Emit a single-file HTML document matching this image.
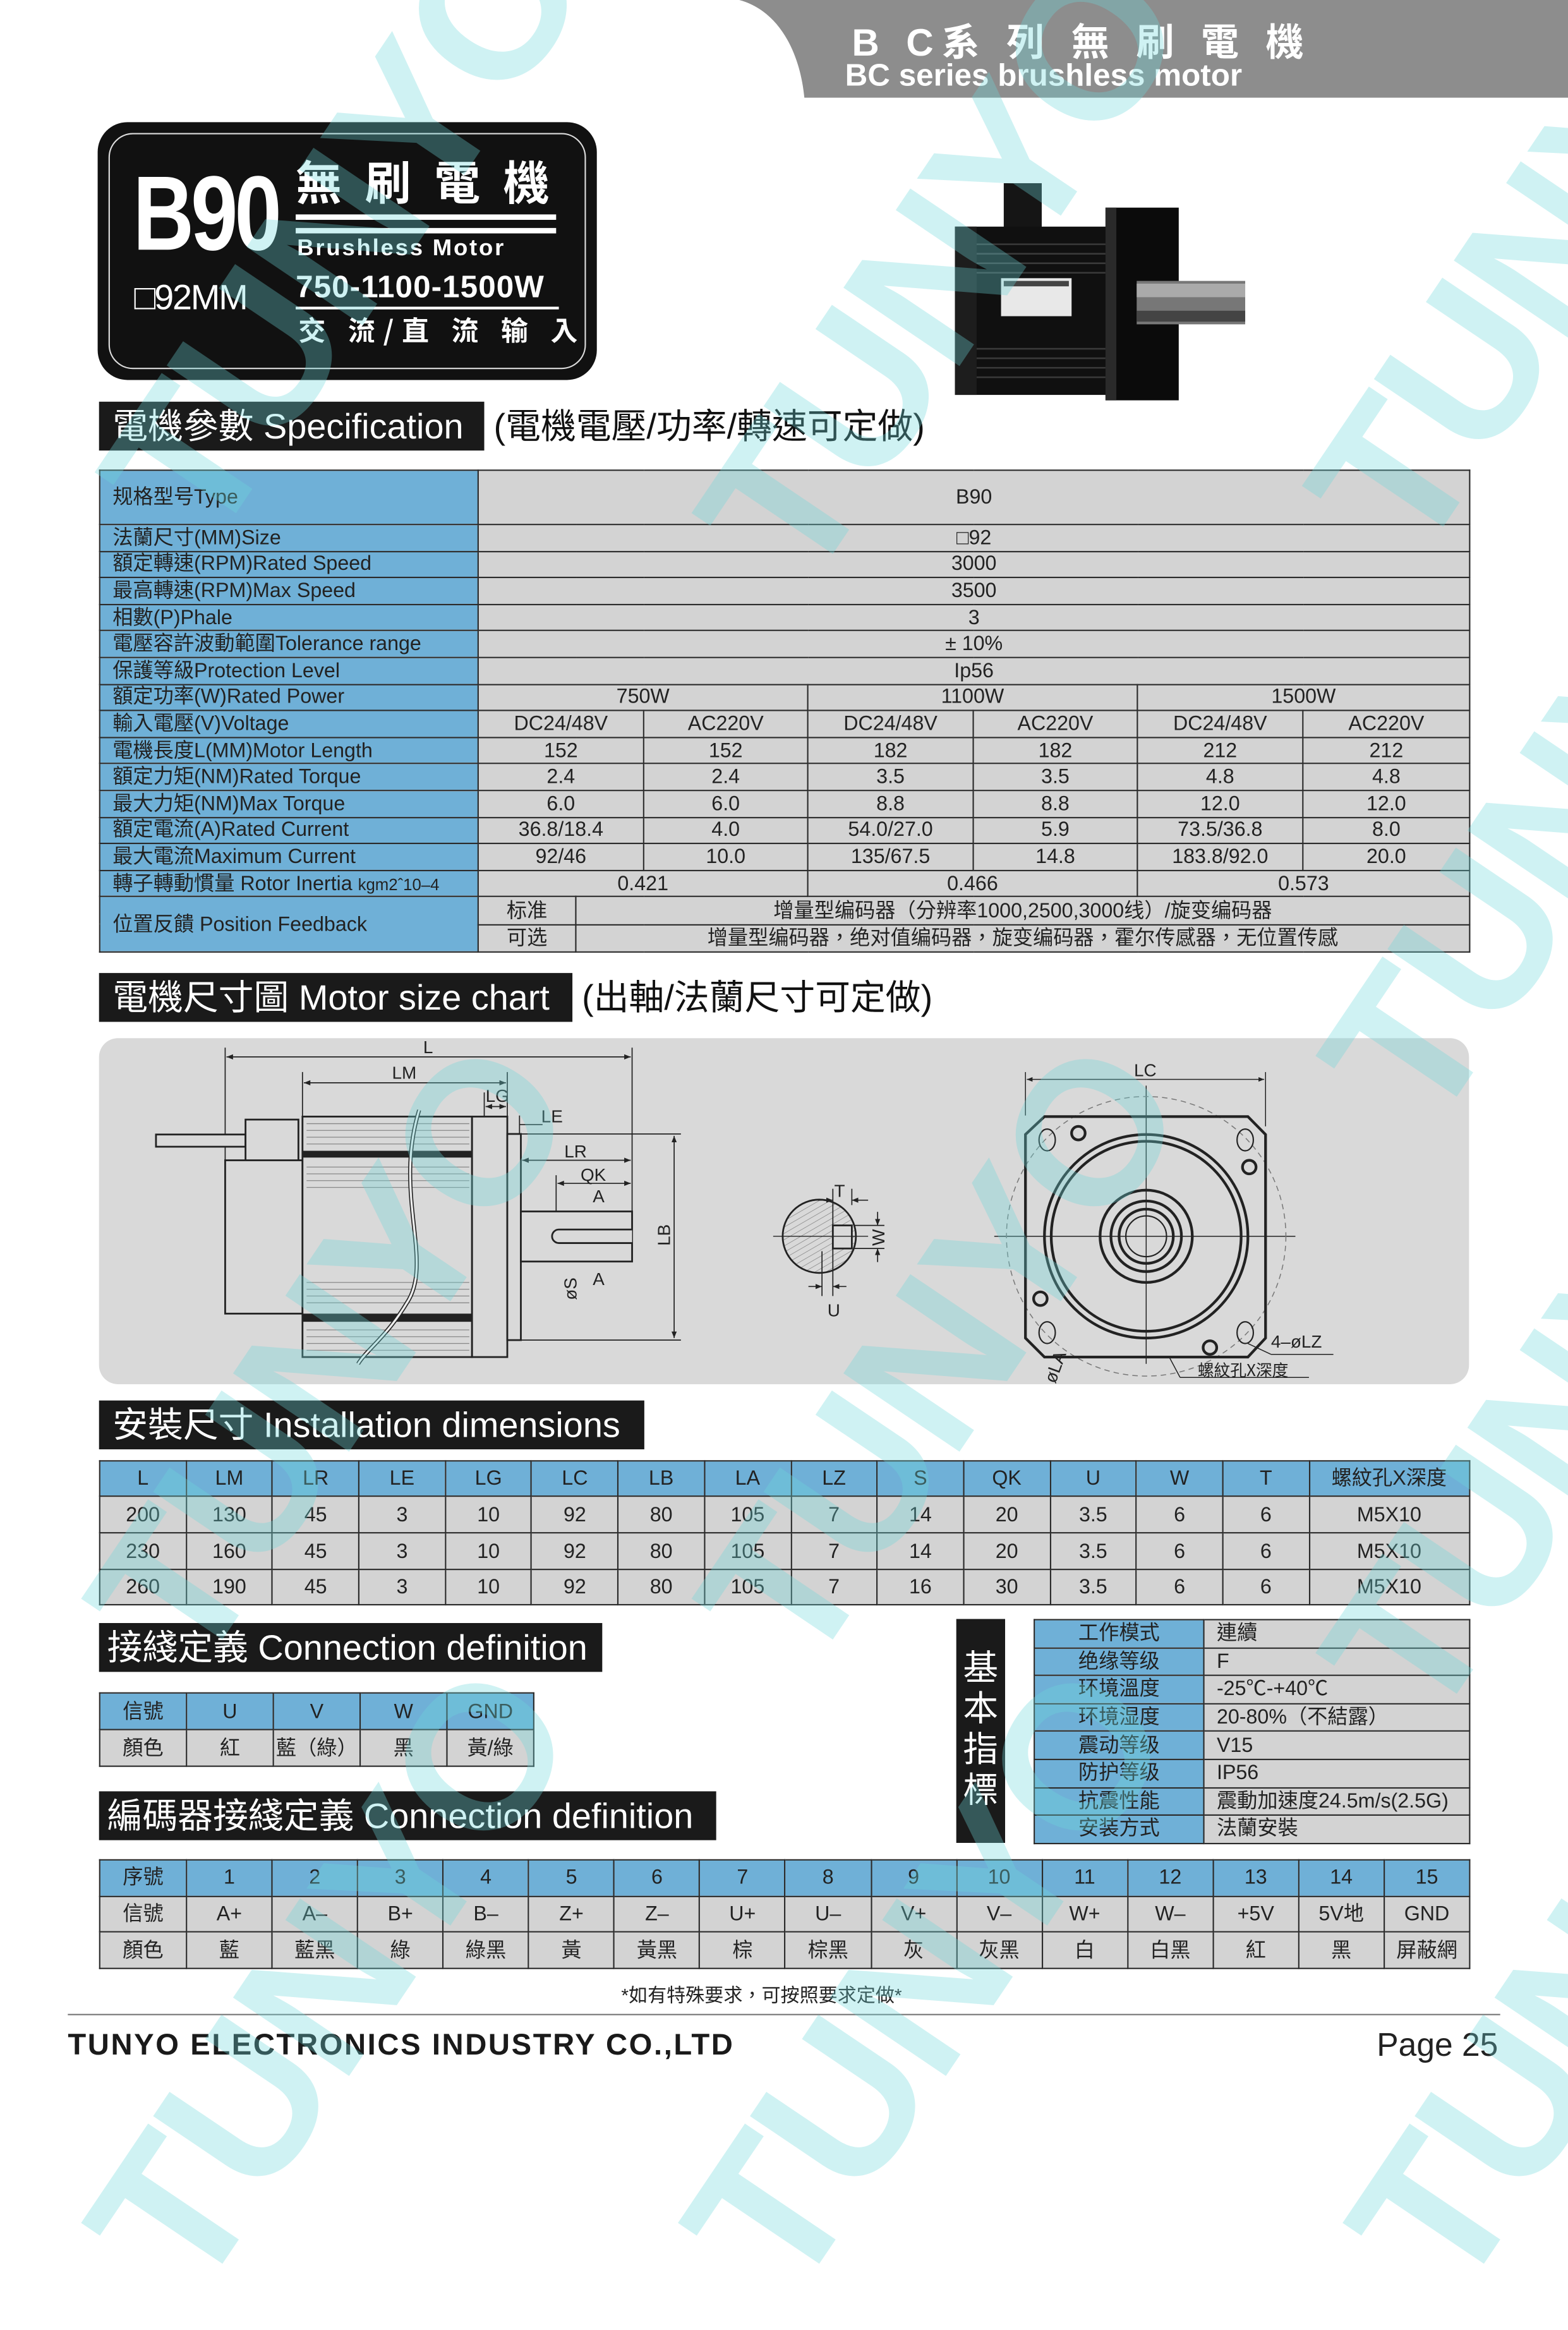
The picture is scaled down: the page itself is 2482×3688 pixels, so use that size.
<!DOCTYPE html>
<html><head><meta charset="utf-8">
<style>
html,body{margin:0;padding:0;background:#fff;}
body{width:2482px;height:3368px;overflow:hidden;position:relative;}
#pg{position:absolute;left:0;top:0;width:1156px;height:1568px;transform:scale(2.1471,2.148);transform-origin:0 0;font-family:"Liberation Sans Narrow","Liberation Sans","Noto Sans CJK TC",sans-serif;color:#222;}
.a{position:absolute;}
.blk{position:absolute;background:#1a1a1a;color:#fff;font-size:26px;line-height:36px;padding-left:10px;white-space:nowrap;}
table{border-collapse:collapse;table-layout:fixed;position:absolute;}
td{border:1.5px solid #2a2a2a;padding:0;font-size:15px;text-align:center;white-space:nowrap;overflow:hidden;line-height:1;}
td.b{background:#6fb0d7;}
td.g{background:#d3d3d3;}
td.l{text-align:left;padding-left:9px;}
.wm{position:absolute;font-family:"Liberation Sans",sans-serif;font-weight:bold;font-size:150px;color:rgba(110,215,220,0.33);transform:rotate(-56deg);transform-origin:0 0;white-space:nowrap;letter-spacing:-4px;pointer-events:none;}
</style></head><body><div id="pg">

<!-- header band -->
<svg class="a" style="left:0;top:0" width="1156" height="80"><path d="M545,0 L1156,0 L1156,72 L593,72 C590,40 575,8 545,0 Z" fill="#8d8d8d"/></svg>
<div class="a" style="left:628px;top:10px;color:#fff;font-weight:bold;font-size:28px;letter-spacing:6px;font-family:'Liberation Sans','Noto Sans CJK TC',sans-serif;">B C系 列 無 刷 電 機</div>
<div class="a" style="left:623px;top:42px;color:#fff;font-weight:bold;font-size:23px;font-family:'Liberation Sans Narrow','Liberation Sans',sans-serif;">BC series brushless motor</div>

<!-- badge -->
<div class="a" style="left:72px;top:90px;width:368px;height:190px;background:#111;border-radius:22px;"></div>
<div class="a" style="left:80px;top:98px;width:350px;height:172px;border:1.5px solid #ddd;border-radius:18px;"></div>
<div class="a" style="left:98px;top:118px;color:#fff;font-weight:bold;font-size:78px;line-height:1;transform:scaleX(0.8);transform-origin:0 0;font-family:'Liberation Sans',sans-serif;letter-spacing:-3px;">B90</div>
<div class="a" style="left:218px;top:114px;color:#fff;font-weight:bold;font-size:34px;line-height:1.1;letter-spacing:17px;font-family:'Noto Sans CJK TC',sans-serif;">無刷電機</div>
<div class="a" style="left:218px;top:158px;width:192px;height:4px;background:#fff;"></div>
<div class="a" style="left:218px;top:168px;width:192px;height:4px;background:#fff;"></div>
<div class="a" style="left:219px;top:173px;color:#fff;font-weight:bold;font-size:17px;letter-spacing:1.3px;font-family:'Liberation Sans',sans-serif;">Brushless Motor</div>
<div class="a" style="left:99px;top:204px;color:#fff;font-size:26px;letter-spacing:-1px;font-family:'Liberation Sans Narrow','Liberation Sans',sans-serif;">□92MM</div>
<div class="a" style="left:218px;top:198px;color:#fff;font-weight:bold;font-size:23px;letter-spacing:0.5px;font-family:'Liberation Sans Narrow','Liberation Sans',sans-serif;">750-1100-1500W</div>
<div class="a" style="left:218px;top:226px;width:194px;height:2px;background:#fff;"></div>
<div class="a" style="left:220px;top:228px;color:#fff;font-weight:bold;font-size:20px;letter-spacing:6px;font-family:'Noto Sans CJK TC',sans-serif;">交 流/直 流 输 入</div>

<!-- motor photo -->
<svg class="a" style="left:690px;top:125px" width="240" height="180">
<rect x="50" y="10" width="28" height="40" fill="#151515"/>
<rect x="14" y="42" width="116" height="124" fill="#101010"/>
<rect x="14" y="42" width="16" height="124" fill="#1d1d1d"/>
<g stroke="#3a3a3a" stroke-width="1.2">
<line x1="30" y1="55" x2="128" y2="55"/><line x1="30" y1="62" x2="128" y2="62"/><line x1="30" y1="69" x2="128" y2="69"/><line x1="30" y1="76" x2="128" y2="76"/>
<line x1="30" y1="132" x2="128" y2="132"/><line x1="30" y1="139" x2="128" y2="139"/><line x1="30" y1="146" x2="128" y2="146"/><line x1="30" y1="153" x2="128" y2="153"/>
</g>
<rect x="48" y="80" width="52" height="28" fill="#e8e8e8"/>
<rect x="50" y="82" width="48" height="4" fill="#444"/>
<rect x="125" y="28" width="54" height="142" fill="#0b0b0b"/>
<rect x="125" y="28" width="8" height="142" fill="#2a2a2a"/>
<rect x="148" y="82" width="80" height="32" fill="#777"/>
<rect x="148" y="84" width="80" height="10" fill="#aaa"/>
<rect x="148" y="104" width="80" height="8" fill="#444"/>
</svg>

<!-- spec heading -->
<div class="blk" style="left:73px;top:296px;width:274px;height:36px;">電機參數 Specification</div>
<div class="a" style="left:364px;top:296px;font-size:26px;line-height:36px;color:#111;">(電機電壓/功率/轉速可定做)</div>

<!-- spec table -->
<table style="left:73px;top:346px;width:1010px;">
<colgroup><col style="width:279px"><col style="width:72px"><col style="width:50px"><col style="width:121px"><col style="width:122px"><col style="width:121px"><col style="width:122px"><col style="width:123px"></colgroup>
<tr style="height:40px"><td class="b l">规格型号Type</td><td class="g" colspan="7">B90</td></tr>
<tr style="height:19.6px"><td class="b l">法蘭尺寸(MM)Size</td><td class="g" colspan="7">□92</td></tr>
<tr style="height:19.6px"><td class="b l">額定轉速(RPM)Rated Speed</td><td class="g" colspan="7">3000</td></tr>
<tr style="height:19.6px"><td class="b l">最高轉速(RPM)Max Speed</td><td class="g" colspan="7">3500</td></tr>
<tr style="height:19.6px"><td class="b l">相數(P)Phale</td><td class="g" colspan="7">3</td></tr>
<tr style="height:19.6px"><td class="b l">電壓容許波動範圍Tolerance range</td><td class="g" colspan="7">± 10%</td></tr>
<tr style="height:19.6px"><td class="b l">保護等級Protection Level</td><td class="g" colspan="7">Ip56</td></tr>
<tr style="height:19.6px"><td class="b l">額定功率(W)Rated Power</td><td class="g" colspan="3">750W</td><td class="g" colspan="2">1100W</td><td class="g" colspan="2">1500W</td></tr>
<tr style="height:19.6px"><td class="b l">輸入電壓(V)Voltage</td><td class="g" colspan="2">DC24/48V</td><td class="g">AC220V</td><td class="g">DC24/48V</td><td class="g">AC220V</td><td class="g">DC24/48V</td><td class="g">AC220V</td></tr>
<tr style="height:19.6px"><td class="b l">電機長度L(MM)Motor Length</td><td class="g" colspan="2">152</td><td class="g">152</td><td class="g">182</td><td class="g">182</td><td class="g">212</td><td class="g">212</td></tr>
<tr style="height:19.6px"><td class="b l">額定力矩(NM)Rated Torque</td><td class="g" colspan="2">2.4</td><td class="g">2.4</td><td class="g">3.5</td><td class="g">3.5</td><td class="g">4.8</td><td class="g">4.8</td></tr>
<tr style="height:19.6px"><td class="b l">最大力矩(NM)Max Torque</td><td class="g" colspan="2">6.0</td><td class="g">6.0</td><td class="g">8.8</td><td class="g">8.8</td><td class="g">12.0</td><td class="g">12.0</td></tr>
<tr style="height:19.6px"><td class="b l">額定電流(A)Rated Current</td><td class="g" colspan="2">36.8/18.4</td><td class="g">4.0</td><td class="g">54.0/27.0</td><td class="g">5.9</td><td class="g">73.5/36.8</td><td class="g">8.0</td></tr>
<tr style="height:19.6px"><td class="b l">最大電流Maximum Current</td><td class="g" colspan="2">92/46</td><td class="g">10.0</td><td class="g">135/67.5</td><td class="g">14.8</td><td class="g">183.8/92.0</td><td class="g">20.0</td></tr>
<tr style="height:19.6px"><td class="b l">轉子轉動慣量 Rotor Inertia <span style="font-size:12px">kgm2ˆ10–4</span></td><td class="g" colspan="3">0.421</td><td class="g" colspan="2">0.466</td><td class="g" colspan="2">0.573</td></tr>
<tr style="height:20.5px"><td class="b l" rowspan="2">位置反饋 Position Feedback</td><td class="g">标准</td><td class="g" colspan="6">增量型编码器（分辨率1000,2500,3000线）/旋变编码器</td></tr>
<tr style="height:20.5px"><td class="g">可选</td><td class="g" colspan="6">增量型编码器，绝对值编码器，旋变编码器，霍尔传感器，无位置传感</td></tr>
</table>

<!-- motor size chart heading -->
<div class="blk" style="left:73px;top:717px;width:339px;height:36px;">電機尺寸圖 Motor size chart</div>
<div class="a" style="left:429px;top:717px;font-size:26px;line-height:36px;color:#111;">(出軸/法蘭尺寸可定做)</div>

<!-- drawing -->
<div class="a" style="left:73px;top:765px;width:1010px;height:255px;background:#d9d9d9;border-radius:14px;"></div>
<svg class="a" style="left:0;top:0" width="1156" height="1030" font-family="Liberation Sans Narrow, Liberation Sans, sans-serif" font-size="13" fill="none" stroke="#222">
<defs>
<marker id="ar" viewBox="0 0 10 10" refX="10" refY="5" markerWidth="6" markerHeight="6" orient="auto-start-reverse"><path d="M0,1 L10,5 L0,9 z" fill="#222" stroke="none"/></marker>
<pattern id="ht" width="4" height="4" patternUnits="userSpaceOnUse" patternTransform="rotate(60)"><line x1="0" y1="0" x2="0" y2="4" stroke="#777" stroke-width="0.6"/></pattern>
</defs>
<g stroke-width="0.8">
<!-- extension lines -->
<line x1="166" y1="772" x2="166" y2="855"/><line x1="466" y1="772" x2="466" y2="893"/>
<line x1="223" y1="790" x2="223" y2="823"/><line x1="374" y1="790" x2="374" y2="823"/>
<line x1="357" y1="805" x2="357" y2="823"/>
<line x1="383" y1="822" x2="383" y2="836"/>
<line x1="410" y1="866" x2="410" y2="893"/>
<line x1="384" y1="835.6" x2="502" y2="835.6"/><line x1="384" y1="987.5" x2="502" y2="987.5"/>
<!-- dim lines -->
<line x1="167" y1="778.8" x2="465" y2="778.8" marker-start="url(#ar)" marker-end="url(#ar)"/>
<line x1="224" y1="797.9" x2="373" y2="797.9" marker-start="url(#ar)" marker-end="url(#ar)"/>
<line x1="358" y1="815.4" x2="373" y2="815.4" marker-start="url(#ar)" marker-end="url(#ar)"/>
<line x1="362" y1="828.7" x2="374" y2="828.7" marker-end="url(#ar)"/><line x1="383" y1="828.7" x2="400" y2="828.7"/>
<line x1="385" y1="855" x2="465" y2="855" marker-start="url(#ar)" marker-end="url(#ar)"/>
<line x1="411" y1="872" x2="465" y2="872" marker-start="url(#ar)" marker-end="url(#ar)"/>
<line x1="497" y1="837" x2="497" y2="986" marker-start="url(#ar)" marker-end="url(#ar)"/>
<line x1="425" y1="894" x2="425" y2="928" marker-start="url(#ar)" marker-end="url(#ar)"/>
</g>
<g stroke-width="1.3" fill="#d9d9d9">
<!-- cable & connector -->
<rect x="115" y="836" width="66" height="9"/>
<rect x="181" y="825" width="39" height="44"/>
<!-- rear cover -->
<rect x="166" y="855" width="57" height="113"/>
<!-- body -->
<rect x="223" y="822.8" width="125" height="177.2"/>
<!-- flange -->
<rect x="348" y="822.8" width="26" height="177.2"/>
<rect x="374" y="835.6" width="10" height="151.9"/>
<!-- shaft -->
<rect x="384" y="892.7" width="82" height="36.9"/>
<path d="M466,906 L412,906 A5,5 0 0 0 412,916 L466,916" />
</g>
<g stroke="#888" stroke-width="0.6">
<line x1="226" y1="828" x2="346" y2="828"/><line x1="226" y1="833" x2="346" y2="833"/><line x1="226" y1="838" x2="346" y2="838"/><line x1="226" y1="843" x2="346" y2="843"/>
<line x1="226" y1="860" x2="346" y2="860"/><line x1="226" y1="865" x2="346" y2="865"/><line x1="226" y1="870" x2="346" y2="870"/><line x1="226" y1="875" x2="346" y2="875"/>
<line x1="226" y1="945" x2="346" y2="945"/><line x1="226" y1="950" x2="346" y2="950"/><line x1="226" y1="955" x2="346" y2="955"/><line x1="226" y1="960" x2="346" y2="960"/>
<line x1="226" y1="980" x2="346" y2="980"/><line x1="226" y1="985" x2="346" y2="985"/><line x1="226" y1="990" x2="346" y2="990"/><line x1="226" y1="995" x2="346" y2="995"/>
</g>
<rect x="223" y="848" width="125" height="5" fill="#222" stroke="none"/>
<rect x="223" y="968" width="125" height="6" fill="#222" stroke="none"/>
<path d="M309,818 C290,880 320,930 300,960 C285,985 270,995 264,1005" stroke-width="3" stroke="#222"/>
<path d="M309,818 C290,880 320,930 300,960 C285,985 270,995 264,1005" stroke-width="1.5" stroke="#eee"/>
<g fill="#222" stroke="none" font-size="13">
<text x="312" y="776">L</text><text x="289" y="795">LM</text><text x="358" y="812">LG</text>
<text x="399" y="827">LE</text><text x="416" y="853">LR</text><text x="428" y="870">QK</text>
<text x="437" y="886">A</text><text x="437" y="947">A</text>
<text transform="translate(425,958) rotate(-90)">øS</text>
<text transform="translate(494,918) rotate(-90)">LB</text>
</g>
<!-- section view -->
<g stroke-width="1.3">
<circle cx="604" cy="911" r="27" fill="url(#ht)"/>
<rect x="614" y="903" width="14" height="17" fill="#d9d9d9"/>
<line x1="570" y1="911" x2="640" y2="911" stroke-width="0.6"/>
</g>
<g stroke-width="0.8">
<line x1="614" y1="876" x2="614" y2="955"/><line x1="628" y1="876" x2="628" y2="888"/>
<line x1="603" y1="884.4" x2="614" y2="884.4" marker-end="url(#ar)"/><line x1="640" y1="884.4" x2="628" y2="884.4" marker-end="url(#ar)"/>
<line x1="630" y1="903" x2="652" y2="903"/><line x1="630" y1="920" x2="652" y2="920"/>
<line x1="647" y1="893" x2="647" y2="903" marker-end="url(#ar)"/><line x1="647" y1="930" x2="647" y2="920" marker-end="url(#ar)"/>
<line x1="606" y1="922" x2="606" y2="955"/>
<line x1="596" y1="948" x2="606" y2="948" marker-end="url(#ar)"/><line x1="624" y1="948" x2="614" y2="948" marker-end="url(#ar)"/>
</g>
<g fill="#222" stroke="none"><text x="615" y="882">T</text><text transform="translate(652,918) rotate(-90)">W</text><text x="610" y="970">U</text></g>
<!-- front view -->
<g stroke-width="0.7">
<line x1="756" y1="790" x2="756" y2="822"/><line x1="933" y1="790" x2="933" y2="830"/>
<line x1="757" y1="795.4" x2="932" y2="795.4" marker-start="url(#ar)" marker-end="url(#ar)"/>
<line x1="845" y1="800" x2="845" y2="1005"/><line x1="733" y1="911" x2="955" y2="911"/>
<circle cx="845" cy="911" r="103" stroke-dasharray="4,3" stroke="#777"/>
</g>
<g stroke-width="2" fill="none">
<path d="M770,822.8 L920,822.8 L933,836 L933,986 L920,1000 L770,1000 L756,986 L756,836 Z"/>
<circle cx="845" cy="911" r="75"/>
<circle cx="845" cy="911" r="70"/>
<circle cx="845" cy="911" r="34"/>
<circle cx="845" cy="911" r="26"/>
<circle cx="845" cy="911" r="20"/>
<circle cx="845" cy="911" r="15" stroke-width="1"/>
</g>
<g stroke-width="1">
<ellipse cx="772" cy="840" rx="6" ry="8"/><ellipse cx="918" cy="840" rx="6" ry="8"/><ellipse cx="772" cy="982" rx="6" ry="8"/><ellipse cx="918" cy="982" rx="6" ry="8"/>
</g>
<g stroke-width="2">
<circle cx="795" cy="835" r="5"/><circle cx="921" cy="860" r="5"/><circle cx="767" cy="957" r="5"/><circle cx="892" cy="993" r="5"/>
</g>
<g stroke-width="0.7">
<line x1="920" y1="990" x2="937" y2="998"/><line x1="937" y1="998" x2="983" y2="998"/>
<line x1="862" y1="1000" x2="870" y2="1015"/><line x1="870" y1="1015" x2="965" y2="1015"/>
</g>
<g fill="#222" stroke="none">
<text x="836" y="793">LC</text>
<text x="937" y="993">4–øLZ</text>
<text x="883" y="1014" font-size="12" font-family="Noto Sans CJK TC, sans-serif">螺紋孔X深度</text>
<text transform="translate(778,1020) rotate(-70)">øLA</text>
</g>
</svg>

<!-- installation -->
<div class="blk" style="left:73px;top:1032px;width:392px;height:36px;">安裝尺寸 Installation dimensions</div>
<table style="left:73px;top:1076px;width:1010px;">
<colgroup><col span="14" style="width:63.7px"><col style="width:118px"></colgroup>
<tr style="height:26px"><td class="b">L</td><td class="b">LM</td><td class="b">LR</td><td class="b">LE</td><td class="b">LG</td><td class="b">LC</td><td class="b">LB</td><td class="b">LA</td><td class="b">LZ</td><td class="b">S</td><td class="b">QK</td><td class="b">U</td><td class="b">W</td><td class="b">T</td><td class="b">螺紋孔X深度</td></tr>
<tr style="height:27px"><td class="g">200</td><td class="g">130</td><td class="g">45</td><td class="g">3</td><td class="g">10</td><td class="g">92</td><td class="g">80</td><td class="g">105</td><td class="g">7</td><td class="g">14</td><td class="g">20</td><td class="g">3.5</td><td class="g">6</td><td class="g">6</td><td class="g">M5X10</td></tr>
<tr style="height:27px"><td class="g">230</td><td class="g">160</td><td class="g">45</td><td class="g">3</td><td class="g">10</td><td class="g">92</td><td class="g">80</td><td class="g">105</td><td class="g">7</td><td class="g">14</td><td class="g">20</td><td class="g">3.5</td><td class="g">6</td><td class="g">6</td><td class="g">M5X10</td></tr>
<tr style="height:26px"><td class="g">260</td><td class="g">190</td><td class="g">45</td><td class="g">3</td><td class="g">10</td><td class="g">92</td><td class="g">80</td><td class="g">105</td><td class="g">7</td><td class="g">16</td><td class="g">30</td><td class="g">3.5</td><td class="g">6</td><td class="g">6</td><td class="g">M5X10</td></tr>
</table>

<!-- connection -->
<div class="blk" style="left:73px;top:1196px;width:365px;height:36px;padding-left:6px;">接綫定義 Connection definition</div>
<table style="left:73px;top:1247px;width:320px;">
<colgroup><col span="5" style="width:64px"></colgroup>
<tr style="height:27px"><td class="b">信號</td><td class="b">U</td><td class="b">V</td><td class="b">W</td><td class="b">GND</td></tr>
<tr style="height:27px"><td class="g">顏色</td><td class="g">紅</td><td class="g">藍（綠）</td><td class="g">黑</td><td class="g">黃/綠</td></tr>
</table>
<div class="blk" style="left:73px;top:1320px;width:449px;height:36px;padding-left:6px;">編碼器接綫定義 Connection definition</div>

<!-- basic index -->
<div class="a" style="left:705px;top:1193px;width:36px;height:165px;background:#1a1a1a;color:#fff;font-size:26px;line-height:30px;text-align:center;font-family:'Noto Sans CJK TC',sans-serif;padding-top:20px;box-sizing:border-box;">基<br>本<br>指<br>標</div>
<table style="left:762px;top:1193px;width:321px;">
<colgroup><col style="width:125px"><col style="width:196px"></colgroup>
<tr style="height:20.6px"><td class="b">工作模式</td><td class="g l">連續</td></tr>
<tr style="height:20.6px"><td class="b">绝缘等级</td><td class="g l">F</td></tr>
<tr style="height:20.6px"><td class="b">环境溫度</td><td class="g l">-25℃-+40℃</td></tr>
<tr style="height:20.6px"><td class="b">环境湿度</td><td class="g l">20-80%（不結露）</td></tr>
<tr style="height:20.6px"><td class="b">震动等级</td><td class="g l">V15</td></tr>
<tr style="height:20.6px"><td class="b">防护等级</td><td class="g l">IP56</td></tr>
<tr style="height:20.6px"><td class="b">抗震性能</td><td class="g l">震動加速度24.5m/s(2.5G)</td></tr>
<tr style="height:20.6px"><td class="b">安装方式</td><td class="g l">法蘭安裝</td></tr>
</table>

<!-- encoder table -->
<table style="left:73px;top:1370px;width:1010px;">
<colgroup><col style="width:64px"><col span="15" style="width:63.07px"></colgroup>
<tr style="height:26.7px"><td class="b">序號</td><td class="b">1</td><td class="b">2</td><td class="b">3</td><td class="b">4</td><td class="b">5</td><td class="b">6</td><td class="b">7</td><td class="b">8</td><td class="b">9</td><td class="b">10</td><td class="b">11</td><td class="b">12</td><td class="b">13</td><td class="b">14</td><td class="b">15</td></tr>
<tr style="height:26.7px"><td class="g">信號</td><td class="g">A+</td><td class="g">A–</td><td class="g">B+</td><td class="g">B–</td><td class="g">Z+</td><td class="g">Z–</td><td class="g">U+</td><td class="g">U–</td><td class="g">V+</td><td class="g">V–</td><td class="g">W+</td><td class="g">W–</td><td class="g">+5V</td><td class="g">5V地</td><td class="g">GND</td></tr>
<tr style="height:26.7px"><td class="g">顏色</td><td class="g">藍</td><td class="g">藍黑</td><td class="g">綠</td><td class="g">綠黑</td><td class="g">黃</td><td class="g">黃黑</td><td class="g">棕</td><td class="g">棕黑</td><td class="g">灰</td><td class="g">灰黑</td><td class="g">白</td><td class="g">白黑</td><td class="g">紅</td><td class="g">黑</td><td class="g">屏蔽網</td></tr>
</table>

<div class="a" style="left:458px;top:1460px;font-size:14px;color:#222;">*如有特殊要求，可按照要求定做*</div>
<div class="a" style="left:50px;top:1484px;width:1056px;height:1px;background:#777;"></div>
<div class="a" style="left:50px;top:1494px;font-size:22px;font-weight:bold;color:#1a1a1a;font-family:'Liberation Sans',sans-serif;letter-spacing:1.2px;">TUNYO ELECTRONICS INDUSTRY CO.,LTD</div>
<div class="a" style="left:1015px;top:1494px;font-size:24px;color:#222;font-family:'Liberation Sans',sans-serif;">Page 25</div>

<!-- watermarks -->
<div class="wm" style="left:40px;top:330px;">TUNYO</div>
<div class="wm" style="left:480px;top:360px;">TUNYO</div>
<div class="wm" style="left:930px;top:340px;">TUNYO</div>
<div class="wm" style="left:30px;top:1160px;">TUNYO</div>
<div class="wm" style="left:480px;top:1160px;">TUNYO</div>
<div class="wm" style="left:940px;top:760px;">TUNYO</div>
<div class="wm" style="left:940px;top:1200px;">TUNYO</div>
<div class="wm" style="left:30px;top:1620px;">TUNYO</div>
<div class="wm" style="left:470px;top:1620px;">TUNYO</div>
<div class="wm" style="left:960px;top:1620px;">TUNYO</div>
</div></body></html>
